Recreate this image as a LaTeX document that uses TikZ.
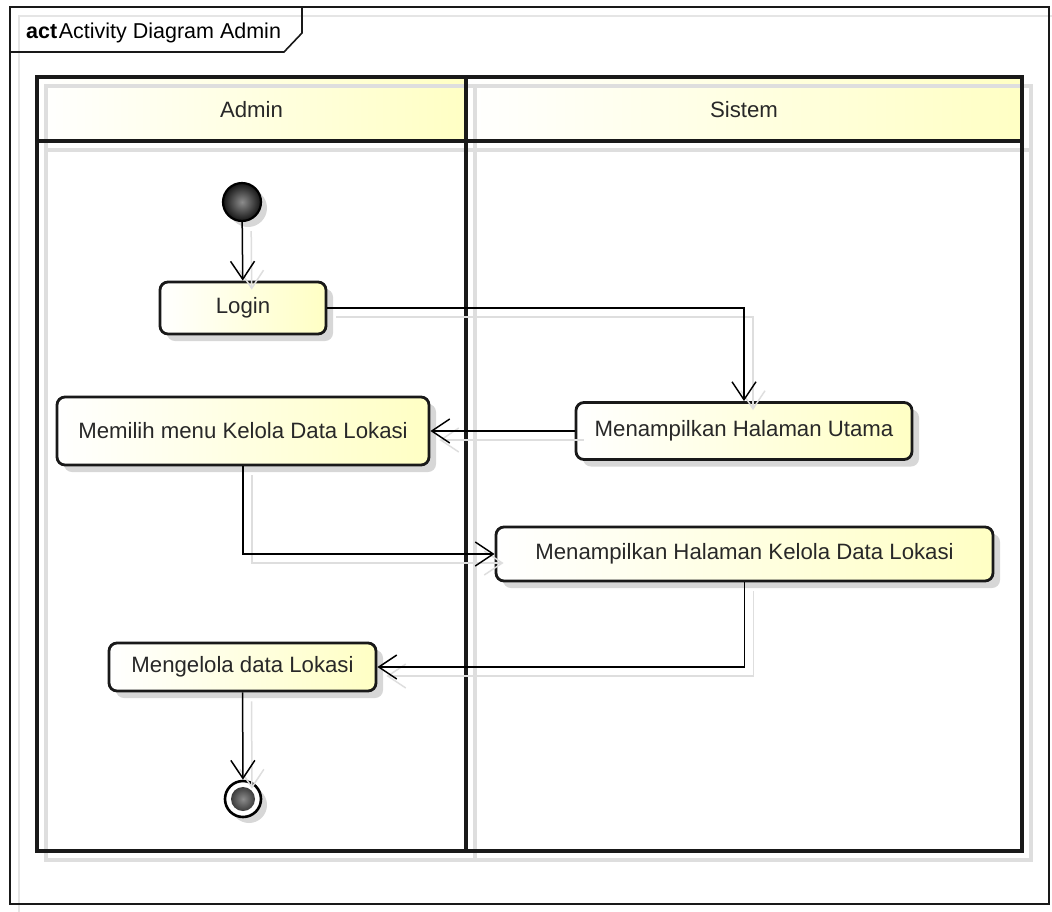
\documentclass[tikz,border=0pt]{standalone}
\usepackage{fontspec}
\setmainfont{Liberation Sans}
\usetikzlibrary{arrows.meta,shadows,calc}
\definecolor{lyellow}{RGB}{255,255,196}
\definecolor{txt}{RGB}{40,40,40}
\begin{document}
\begin{tikzpicture}[x=1pt,y=-1pt,
  nodefont/.style={font=\fontsize{22.2}{26}\selectfont},
  act/.style={draw=black!90, line width=2.8pt, rounded corners=8pt,
    left color=white, right color=lyellow, nodefont, text=txt, inner sep=0pt,
    drop shadow={shadow xshift=7pt, shadow yshift=-7pt, fill=black!22, opacity=.7}},
  conn/.style={line width=1.5pt, draw=black,
    -{Straight Barb[length=18pt,width=24pt,line width=1.5pt]},
    preaction={draw=black!13, line width=1.5pt, transform canvas={shift={(9pt,-9pt)}}}},
  lanebox/.style={draw=black!90, line width=3.4pt},
  laneshadow/.style={draw=black!13, line width=3.4pt},
  hdr/.style={left color=white, right color=lyellow},
  frameline/.style={draw=black!90, line width=1.6pt}
]
\useasboundingbox (0,0) rectangle (1052,911);
\fill[white] (0,0) rectangle (1052,911);
% frame shadow
\draw[draw=black!10, line width=1.6pt] (19,16) rectangle (1060,915);
% headers fill
\shade[hdr] (37,77) rectangle (466,141);
\shade[hdr] (466,77) rectangle (1022,141);
% lane shadows
\draw[laneshadow] (46,86) rectangle (475,860);
\draw[laneshadow] (46,150) -- (475,150);
\draw[laneshadow] (475,86) rectangle (1031,860);
\draw[laneshadow] (475,150) -- (1031,150);
% lanes
\draw[lanebox] (37,77) rectangle (466,851);
\draw[lanebox] (37,141) -- (466,141);
\draw[lanebox] (466,77) rectangle (1022,851);
\draw[lanebox] (466,141) -- (1022,141);
\node[nodefont, text=txt] (hadmin) at (251.5,110) {Admin};
\node[nodefont, text=txt] (hsistem) at (744,110) {Sistem};
% frame
\draw[frameline] (10,7) rectangle (1049,904);
\draw[frameline] (10,52) -- (284,52) -- (302,33) -- (302,7);
\node[anchor=base west, inner sep=0pt, font=\fontsize{21.5}{24}\selectfont, text=black] (title) at (26,38)
  {\textbf{act}\hspace{1.5pt}Activity Diagram Admin};
% nodes
\node[circle, draw=black, line width=2.2pt, minimum size=38pt, inner sep=0pt,
  inner color=black!45, outer color=black!92,
  drop shadow={shadow xshift=6pt, shadow yshift=-6pt, fill=black!22, opacity=.7}] (start) at (242,202) {};
\node[act, minimum width=166pt, minimum height=52pt] (login) at (243,308) {Login};
\node[act, minimum width=372pt, minimum height=68pt] (memilih) at (243,431) {Memilih menu Kelola Data Lokasi};
\node[act, minimum width=336pt, minimum height=57pt] (utama) at (744,431) {Menampilkan Halaman Utama};
\node[act, minimum width=497pt, minimum height=54pt] (kelola) at (744.5,554) {Menampilkan Halaman Kelola Data Lokasi};
\node[act, minimum width=267pt, minimum height=48pt] (mengelola) at (242.5,667) {Mengelola data Lokasi};
\node[circle, draw=black, line width=2.6pt, fill=white, minimum size=36pt, inner sep=0pt,
  drop shadow={shadow xshift=6pt, shadow yshift=-6pt, fill=black!22, opacity=.7},
  path picture={\fill[inner color=black!45, outer color=black!92] (path picture bounding box.center) circle (12pt);}] (end) at (243,799) {};
% connectors
\draw[conn] (start) -- (login);
\draw[conn] (login.east) -| (utama.north);
\draw[conn] (utama.west) -- (memilih.east);
\draw[conn] (memilih.south) |- (kelola.west);
\draw[conn] (kelola.south) |- (mengelola.east);
\draw[conn] (mengelola) -- (end);
\end{tikzpicture}
\end{document}
